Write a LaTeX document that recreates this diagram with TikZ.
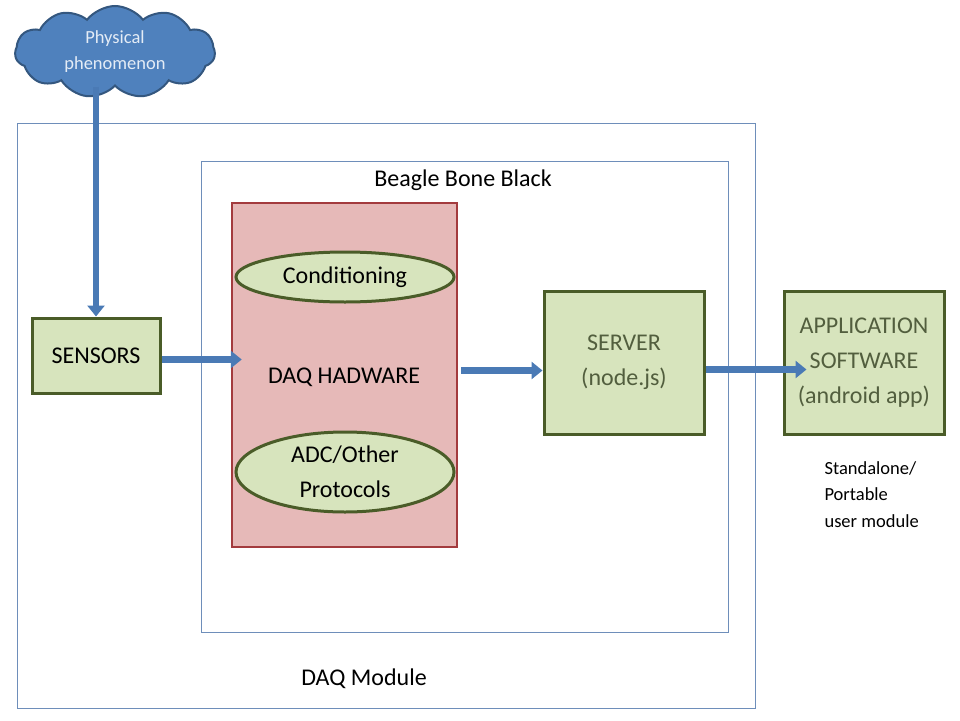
\documentclass[tikz,border=0pt]{standalone}
\usepackage{fontspec}
\setmainfont{Carlito}
\usetikzlibrary{arrows.meta,shapes.geometric,shapes.symbols,positioning}

\definecolor{frameblue}{HTML}{6E8EBA}
\definecolor{arrowblue}{HTML}{4A7AB5}
\definecolor{cloudblue}{HTML}{4F81BD}
\definecolor{cloudedge}{HTML}{34577F}
\definecolor{cloudtext}{HTML}{E4ECF6}
\definecolor{boxgreen}{HTML}{D7E4BD}
\definecolor{boxedge}{HTML}{4A5C28}
\definecolor{boxtext}{HTML}{525E3E}
\definecolor{daqpink}{HTML}{E6B9B8}
\definecolor{daqedge}{HTML}{A33B3E}

\begin{document}
\begin{tikzpicture}[x=1pt,y=-1pt,>={Triangle[width=17pt,length=11pt]},
    txt/.style={font=\fontsize{24}{35}\selectfont,align=center},
    frame/.style={draw=frameblue,line width=0.9pt,inner sep=0pt},
    box/.style={txt,draw=boxedge,fill=boxgreen,line width=3pt,inner sep=0pt},
    oval/.style={box,ellipse,minimum width=218pt},
    flow/.style={->,draw=arrowblue,line width=6.5pt}]
      \useasboundingbox (0,0) rectangle (960,720);

      \node[frame,minimum width=738pt,minimum height=585pt] (M) at (386,415.5) {};
      \node[frame,minimum width=527pt,minimum height=471pt] (B) at (464.5,396.5) {};
      \node[txt]                         (Bl) at (463,180) {Beagle Bone Black};
      \node[txt]                         (Ml) at (364,679) {DAQ Module};

      \node[cloud,cloud puffs=11,cloud puff arc=105,aspect=2.2,draw=cloudedge,fill=cloudblue,
            line width=2pt,minimum width=200pt,minimum height=92pt,inner sep=0pt,
            text=cloudtext,align=center,font=\fontsize{18.5}{26}\selectfont]
                                         (P) at (115,52) {Physical\\phenomenon};

      \node[box,minimum width=128pt,minimum height=75pt]  (S) at (96,355.5)  {SENSORS};
      \node[txt,draw=daqedge,fill=daqpink,line width=2.5pt,minimum width=225pt,
            minimum height=344pt]                          (H) at (344.5,375) {};
      \node[txt]                                           (Hl) at (344,377) {DAQ HADWARE};
      \node[oval,minimum height=50pt]                      (C) at (345,277)  {Conditioning};
      \node[oval,minimum height=80pt]                      (D) at (345,472)  {ADC/Other\\Protocols};
      \node[box,text=boxtext,minimum width=160pt,minimum height=143pt] (V) at (624,362.5)
            {SERVER\\(node.js)};
      \node[box,text=boxtext,minimum width=160pt,minimum height=143pt] (A) at (864,362.5)
            {APPLICATION\\SOFTWARE\\(android app)};
      \node[align=left,anchor=north west,font=\fontsize{18.5}{26.5}\selectfont]
                                         (U) at (821,458) {Standalone/\\Portable\\user module};

      \draw[flow] (P.south -| S.north) -- (S.north);
      \draw[flow,shorten >=-11pt] ([yshift=-4pt]S.east) -- ([yshift=-4pt]S.east -| H.west);
      \draw[flow] ([xshift=3pt,yshift=-8pt]V.west -| H.east) -- ([yshift=-8pt]V.west);
      \draw[flow,shorten >=-24pt] ([yshift=-7pt]V.east) -- ([yshift=-7pt]A.west);
    \end{tikzpicture}
\end{document}
